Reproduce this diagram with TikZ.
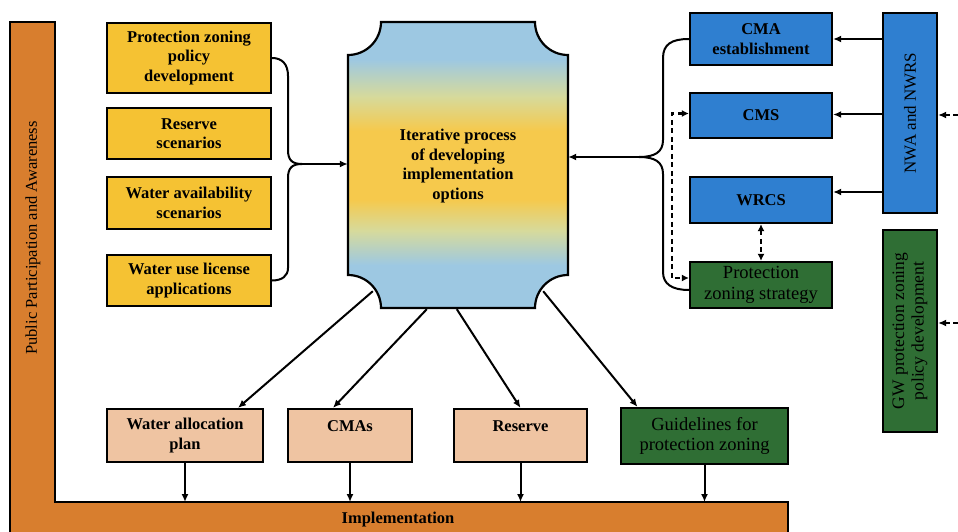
\documentclass[tikz,border=0pt]{standalone}
\usepackage{fontspec}
\setmainfont{Liberation Serif}
\usepackage{xcolor}
\usetikzlibrary{arrows.meta,calc}

\definecolor{barorange}{HTML}{D87E2E}
\definecolor{inputyellow}{HTML}{F5C233}
\definecolor{procblue}{HTML}{9DC8E2}
\definecolor{procmix}{HTML}{D6DA9C}
\definecolor{procyellow}{HTML}{F6C94C}
\definecolor{strategyblue}{HTML}{2F7FD0}
\definecolor{zonegreen}{HTML}{2F6E34}
\definecolor{outputpeach}{HTML}{EFC4A2}

% the path's box is mapped onto 25bp..75bp of the shading
\pgfdeclareverticalshading{procfade}{100bp}{%
  color(0bp)=(procblue); color(32.5bp)=(procblue);
  color(38.5bp)=(procmix);
  color(44bp)=(procyellow); color(56bp)=(procyellow);
  color(62bp)=(procmix);
  color(68.5bp)=(procblue); color(100bp)=(procblue)}

\begin{document}
\begin{tikzpicture}[
  x=1pt,
  y=-1pt,
  line join=miter,
  box/.style={
    draw=black,
    line width=2.2pt,
    align=center,
    inner sep=2pt,
    font=\fontsize{16.5}{19.5}\selectfont\bfseries
  },
  input box/.style={box,fill=inputyellow,minimum width=164pt},
  strategy box/.style={box,fill=strategyblue,minimum width=142pt},
  zoning box/.style={box,fill=zonegreen,font=\fontsize{18.5}{20.5}\selectfont},
  output box/.style={box,fill=outputpeach,minimum height=53pt},
  upper text/.style={text height=12pt,text depth=21pt},
  label/.style={inner sep=0pt},
  flow arrow/.style={
    draw=black,
    line width=2pt,
    -{Latex[length=8pt,width=7pt]}
  },
  dashed feed/.style={
    flow arrow,
    dash pattern=on 5pt off 3.5pt
  },
  dashed link/.style={
    dashed feed,
    line width=2.2pt,
    {Latex[length=7pt,width=7pt]}-{Latex[length=7pt,width=7pt]}
  },
  brace line/.style={draw=black,line width=2pt}
]
  \path[use as bounding box] (0,0) rectangle (958,532);

  % Participation bar on the left, running into the implementation bar below.
  \fill[barorange] (10,545) -- (10,22) -- (55,22) -- (55,502) -- (788,502)
    -- (788,545) -- cycle;
  \draw[black,line width=2.2pt] (10,545) -- (10,22) -- (55,22) -- (55,502)
    -- (788,502) -- (788,545);
  \node[label,rotate=90,font=\fontsize{16.5}{19.5}\selectfont] (ppa) at (33,238)
    {Public Participation and Awareness};
  \node[label,font=\fontsize{16.5}{19.5}\selectfont\bfseries] (impl) at (398,520)
    {Implementation};
  \coordinate (impltop) at (398,502);

  % Inputs on the left
  \node[input box,minimum height=70pt] (pzpolicy) at (189,58)
    {Protection zoning\\policy\\development};
  \node[input box,minimum height=51pt] (resscen) at (189,133.5)
    {Reserve\\scenarios};
  \node[input box,minimum height=52pt] (wavail) at (189,203)
    {Water availability\\scenarios};
  \node[input box,minimum height=51pt] (wulapp) at (189,280.5)
    {Water use license\\applications};

  % Central process, with concave corners
  \shadedraw[shading=procfade,draw=black,line width=2.2pt]
    (381,22) -- (535,22)
    .. controls (535,40.2) and (549.8,55) .. (568,55)
    -- (568,275)
    .. controls (549.8,275) and (535,289.8) .. (535,308)
    -- (381,308)
    .. controls (381,289.8) and (366.2,275) .. (348,275)
    -- (348,55)
    .. controls (366.2,55) and (381,40.2) .. (381,22) -- cycle;
  \node[align=center,inner sep=0pt,minimum width=220pt,minimum height=286pt,
    font=\fontsize{16.5}{19.5}\selectfont\bfseries] (proc) at (458,166)
    {Iterative process\\of developing\\implementation\\options};

  % Strategies on the right
  \node[strategy box,minimum height=52pt] (cmaest) at (761,39)
    {CMA\\establishment};
  \node[strategy box,minimum height=45pt] (cms) at (761,115.5) {CMS};
  \node[strategy box,minimum height=46pt] (wrcs) at (761,200) {WRCS};
  \node[zoning box,minimum width=142pt,minimum height=46pt] (pzstrat) at (761,285)
    {Protection\\zoning strategy};
  \node[box,fill=strategyblue,rotate=90,minimum width=200pt,minimum height=54pt,
    font=\fontsize{17}{19.5}\selectfont] (nwa) at (910,113) {NWA and NWRS};
  \node[zoning box,rotate=90,minimum width=202pt,minimum height=54pt,
    font=\fontsize{17.5}{19.5}\selectfont] (gwpol) at (910,331)
    {GW protection zoning\\policy development};
  \coordinate (nwaedge) at (958,115);
  \coordinate (gwedge) at (958,323);

  % Outputs along the bottom
  \node[output box,minimum width=156pt] (walloc) at (185,435.5)
    {Water allocation\\plan};
  \node[output box,upper text,minimum width=124pt] (cmas) at (350,435.5) {CMAs};
  \node[output box,upper text,minimum width=133pt] (reserve) at (520.5,435.5)
    {Reserve};
  \node[zoning box,minimum width=167pt,minimum height=56pt] (guide) at (704.5,436)
    {Guidelines for\\protection zoning};

  % Left brace gathers the inputs
  \coordinate (lbrace) at (302,164);
  \draw[brace line] (pzpolicy.east)
    .. controls (282,58) and (288,64) .. (288,76) -- (288,150)
    .. controls (288,160) and (292,164) .. (lbrace)
    .. controls (292,164) and (288,168) .. (288,178) -- (288,268)
    .. controls (288,276) and (282,280.5) .. (wulapp.east);
  \draw[flow arrow] (lbrace) -- (proc.west |- lbrace);

  % Right brace gathers the strategies
  \coordinate (rbrace) at (639,157);
  \draw[brace line] (cmaest.west)
    .. controls (672,39) and (663,44) .. (663,58) -- (663,140)
    .. controls (663,152) and (655,157) .. (rbrace)
    .. controls (655,157) and (663,162) .. (663,174) -- (663,272)
    .. controls (663,284) and (672,290) .. ([yshift=-5pt]pzstrat.west);
  \draw[flow arrow] (rbrace) -- (proc.east |- rbrace);

  \draw[flow arrow] (cmaest.east -| nwa.north) -- (cmaest.east);
  \draw[flow arrow] ([yshift=1pt]cms.east -| nwa.north) -- ([yshift=1pt]cms.east);
  \draw[flow arrow] ([yshift=8pt]wrcs.east -| nwa.north) -- ([yshift=8pt]wrcs.east);
  \draw[dashed feed] (nwaedge) -- (nwaedge -| nwa.south);
  \draw[dashed feed] (gwedge) -- (gwedge -| gwpol.south);
  \draw[dashed link] ([yshift=2pt]cms.west) -- ++(-17,0)
    |- ([yshift=7pt]pzstrat.west);
  \draw[dashed link] (wrcs.south) -- (pzstrat.north);

  % Process to outputs, outputs to implementation
  \draw[flow arrow] ([xshift=25pt,yshift=18pt]proc.south west)
    -- ([xshift=53pt]walloc.north);
  \draw[flow arrow] ([xshift=79pt]proc.south west) -- ([xshift=-17pt]cmas.north);
  \draw[flow arrow] ([xshift=109pt]proc.south west) -- (reserve.north);
  \draw[flow arrow] ([xshift=-25pt,yshift=18pt]proc.south east)
    -- ([xshift=-67pt]guide.north);
  \foreach \outnode in {walloc,cmas,reserve,guide}{
    \draw[flow arrow] (\outnode.south) -- (\outnode.south |- impltop);
  }
\end{tikzpicture}
\end{document}
